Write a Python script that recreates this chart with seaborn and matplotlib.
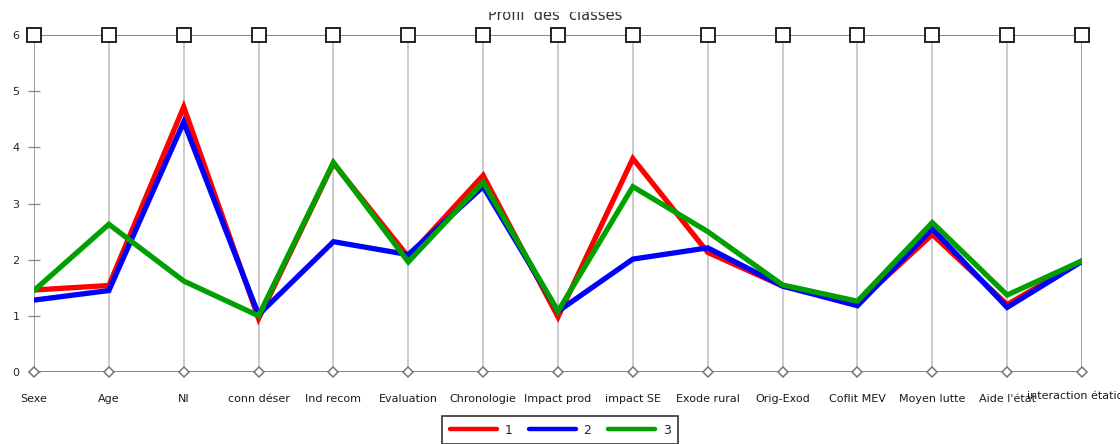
import numpy as np
import pandas as pd
import seaborn as sns
import matplotlib.pyplot as plt
from matplotlib.patches import Rectangle

variables = ["Sexe", "Age", "NI", "conn déser", "Ind recom", "Evaluation",
             "Chronologie", "Impact prod", "impact SE", "Exode rural",
             "Orig-Exod", "Coflit MEV", "Moyen lutte", "Aide l'état",
             "interaction étatique"]

classe1 = [1.46, 1.54, 4.72, 0.95, 3.72, 2.05, 3.50, 0.98, 3.80, 2.13, 1.53, 1.22, 2.45, 1.20, 1.98]
classe2 = [1.28, 1.45, 4.45, 1.02, 2.32, 2.09, 3.30, 1.08, 2.01, 2.21, 1.53, 1.18, 2.55, 1.15, 1.97]
classe3 = [1.45, 2.63, 1.62, 1.00, 3.73, 1.96, 3.38, 1.08, 3.30, 2.50, 1.55, 1.26, 2.66, 1.37, 1.98]

classes = ["1", "2", "3"]
palette = {"1": "#ff0000", "2": "#0000ff", "3": "#00a000"}

rows = []
for c, vals in zip(classes, [classe1, classe2, classe3]):
    for i, v in enumerate(vals):
        rows.append({"pos": i, "valeur": v, "classe": c})
df = pd.DataFrame(rows)

sns.set_style("white")
plt.rcParams["font.family"] = ["DejaVu Sans"]

fig = plt.figure(figsize=(11.2, 4.44), dpi=100)
ax = fig.add_axes([34 / 1120, 72 / 444, (1082 - 34) / 1120, (372 - 35) / 444])

n = len(variables)
pos = np.arange(n)

# axes verticaux
for i in pos:
    col = "#8c8c8c" if i in (0, n - 1) else "#c4c4c4"
    ax.plot([i, i], [0, 6], color=col, lw=1.2, zorder=1)
ax.plot([0, n - 1], [6, 6], color="#7a7a7a", lw=1.3, zorder=1)
ax.plot([0, n - 1], [0, 0], color="#7a7a7a", lw=1.3, zorder=1)

sns.lineplot(data=df, x="pos", y="valeur", hue="classe", palette=palette,
             hue_order=classes, lw=3.8, ax=ax, legend=False, zorder=3,
             solid_joinstyle="miter")

ax.plot(pos, np.full(n, 6), ls="none", marker="s", ms=9.5, mfc="white",
        mec="#222222", mew=1.4, zorder=4, clip_on=False)
ax.plot(pos, np.zeros(n), ls="none", marker="D", ms=5, mfc="white",
        mec="#777777", mew=1.1, zorder=4, clip_on=False)

ax.set_xlim(0, n - 1)
ax.set_ylim(0, 6)
for s in ax.spines.values():
    s.set_visible(False)

ax.set_yticks(range(7))
ax.tick_params(axis="y", direction="inout", length=9, width=1, color="#8c8c8c",
               pad=6, labelsize=8, labelcolor="#222244", left=True)
ax.set_xticks(pos)
ax.set_xticklabels(variables)
ax.tick_params(axis="x", length=0, pad=16, labelsize=8, labelcolor="#1a1a1a")
lbls = ax.get_xticklabels()
lbls[-1].set_y(0.012)
ax.set_xlabel("")
ax.set_ylabel("")

title = fig.text(555 / 1120, 1 - 19.5 / 444, "Profil  des  classes", ha="center",
                 va="baseline", fontsize=10.5, color="#333333")
clip = Rectangle((0, 0), 1, 1 - 12 / 444, transform=fig.transFigure)
title.set_clip_path(clip)
title.set_clip_on(True)

handles = [plt.Line2D([], [], color=palette[c], lw=3.2) for c in classes]
leg = fig.legend(handles, classes, loc="upper left", ncol=3,
                 bbox_to_anchor=(442 / 1120, 1 - 416 / 444), frameon=True,
                 fancybox=False, edgecolor="black", fontsize=9,
                 handlelength=3.8, columnspacing=1.3, handletextpad=0.6,
                 borderpad=0.6, borderaxespad=0)
leg.get_frame().set_linewidth(1.2)

fig.savefig("out.png", dpi=100)
